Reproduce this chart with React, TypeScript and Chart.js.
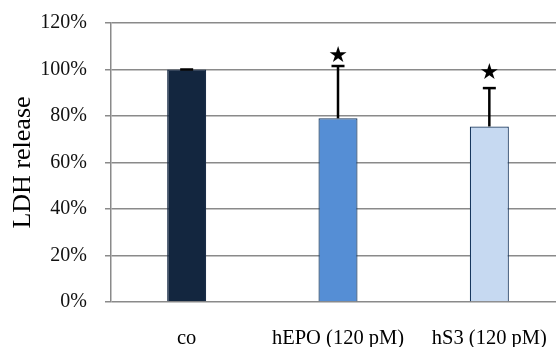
import React, { useEffect, useRef } from "react";
import { Chart, registerables } from "chart.js";

Chart.register(...registerables);

const categories = ["co", "hEPO (120 pM)", "hS3 (120 pM)"];
const ldhRelease = [100, 79, 75.5];
const errorUp = [0, 22.5, 16.5];
const starLevels = [null, 105.5, 98.5];
const yTicks = [0, 20, 40, 60, 80, 100, 120];

const barColors = ["#13263f", "#558ed5", "#c6d9f1"];
const barBorders = ["#1a2d48", "#17375e", "#17375e"];

const SERIF = "'Liberation Serif', 'Times New Roman', serif";

const errorBarPlugin = {
  id: "errorBars",
  afterDatasetsDraw(chart: any) {
    const ctx = chart.ctx;
    const meta = chart.getDatasetMeta(0);
    const yScale = chart.scales.y;
    ctx.save();
    meta.data.forEach((bar: any, i: number) => {
      const x = bar.x;
      const yBase = yScale.getPixelForValue(ldhRelease[i]);
      const yTop = yScale.getPixelForValue(ldhRelease[i] + errorUp[i]);
      ctx.strokeStyle = "#000";
      ctx.lineWidth = 2.5;
      ctx.beginPath();
      ctx.moveTo(x, yBase);
      ctx.lineTo(x, yTop);
      ctx.stroke();
      ctx.beginPath();
      ctx.moveTo(x - 6.5, yTop);
      ctx.lineTo(x + 6.5, yTop);
      ctx.stroke();
      const s = starLevels[i];
      if (s !== null && s !== undefined) {
        ctx.fillStyle = "#000";
        ctx.font = "22px 'DejaVu Sans'";
        ctx.textAlign = "center";
        ctx.textBaseline = "middle";
        ctx.fillText("★", x, yScale.getPixelForValue(s));
      }
    });
    ctx.restore();
  },
};

export default function App() {
  const ref = useRef<HTMLCanvasElement | null>(null);
  useEffect(() => {
    if (!ref.current) return;
    const chart = new Chart(ref.current, {
      type: "bar",
      data: {
        labels: categories,
        datasets: [
          {
            data: ldhRelease,
            backgroundColor: barColors,
            borderColor: barBorders,
            borderWidth: 1.2,
            categoryPercentage: 1,
            barPercentage: 0.258,
          },
        ],
      },
      options: {
        animation: false,
        responsive: false,
        maintainAspectRatio: false,
        layout: { padding: { top: 23, right: 1, left: 0, bottom: 0 } },
        plugins: {
          legend: { display: false },
          tooltip: { enabled: false },
        },
        scales: {
          x: {
            afterFit(scale: any) {
              scale.height = 45;
            },
            grid: { display: false },
            border: { display: false },
            ticks: {
              color: "#000",
              font: { family: SERIF, size: 20.5 },
              padding: 16,
              maxRotation: 0,
              autoSkip: false,
            },
          },
          y: {
            min: 0,
            max: 120,
            afterFit(scale: any) {
              scale.width = 111;
            },
            afterBuildTicks(scale: any) {
              scale.ticks = yTicks.map((v) => ({ value: v }));
            },
            grid: {
              color: "#8a8a8a",
              lineWidth: 1.5,
              tickLength: 6,
              drawTicks: true,
            },
            border: { display: true, color: "#8a8a8a", width: 1.5 },
            ticks: {
              color: "#111",
              font: { family: SERIF, size: 20, lineHeight: 0.4 },
              padding: 18,
              callback: (v: any) => v + "%",
            },
            title: {
              display: true,
              text: "LDH release",
              color: "#000",
              font: { family: SERIF, size: 26, lineHeight: 1 },
              padding: { top: 10, bottom: 0 },
            },
          },
        },
      },
      plugins: [errorBarPlugin],
    });
    return () => chart.destroy();
  }, []);
  return (
    <div
      style={{
        position: "fixed",
        left: 0,
        top: 0,
        width: 556,
        height: 347,
        overflow: "hidden",
        background: "#fff",
      }}
    >
      <canvas ref={ref} width={566} height={347} style={{ display: "block" }} />
    </div>
  );
}
